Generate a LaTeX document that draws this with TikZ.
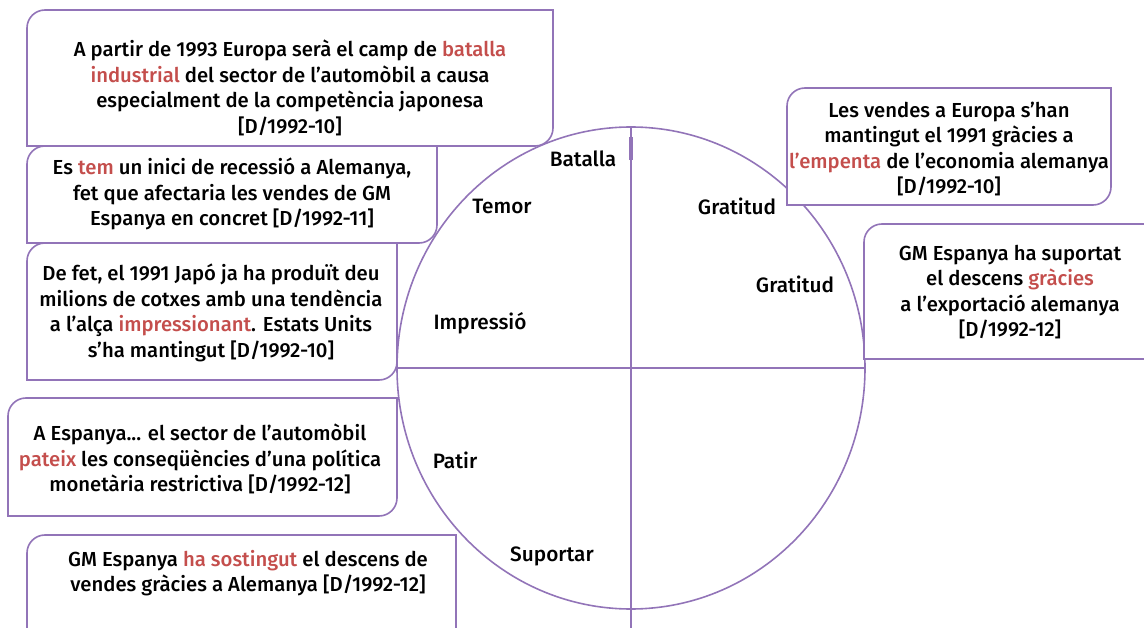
\documentclass[tikz,border=0pt]{standalone}
\usepackage{fontspec}
\setmainfont{Fira Sans}[UprightFont=* Medium]
\usetikzlibrary{positioning}
\definecolor{lila}{RGB}{146,116,184}
\definecolor{roig}{RGB}{196,78,76}

% box with two rounded corners (top left, bottom right)
\newcommand\notebox[4]{%
  \draw[noteline] (#1,{(#2+#4)/2}) [rounded corners=18pt] -- (#1,#2) -- ({(#1+#3)/2},#2)
    [sharp corners] -- (#3,#2) -- (#3,{(#2+#4)/2})
    [rounded corners=18pt] -- (#3,#4) -- ({(#1+#3)/2},#4)
    [sharp corners] -- (#1,#4) -- cycle;}

\begin{document}
\begin{tikzpicture}[x=1pt, y=-1pt,
		noteline/.style = {draw=lila, line width=1.6pt, fill=white},
		note/.style     = {align=center, font=\fontsize{20.3}{25.6}\selectfont, inner sep=0pt},
		word/.style     = {font=\fontsize{20.8}{22}\selectfont, inner sep=0pt},
		axis/.style     = {lila, line width=1.6pt}]
	
	\useasboundingbox (0,0) rectangle (1144,628);
	\clip (0,0) rectangle (1144,628);
	
	% circle and axes
	\draw[axis] (631,368) ellipse [x radius=234, y radius=241];
	\draw[axis] (631,127) -- (631,640);
	\draw[axis] (397,368) -- (865,368);
	\draw[lila, line width=4pt] (631,137) -- (631,160);
	
	% words inside the circle
	\node[word] (w1) at (583,159) {Batalla};
	\node[word] (w2) at (502,206) {Temor};
	\node[word] (w3) at (737,206) {Gratitud};
	\node[word] (w4) at (795,284) {Gratitud};
	\node[word] (w5) at (480,323) {Impressió};
	\node[word] (w6) at (455,460) {Patir};
	\node[word] (w7) at (552,556) {Suportar};
	
	% boxes
	\notebox{27}{10}{553}{146}
	\notebox{27}{146}{437}{243}
	\notebox{27}{243}{397}{380}
	\notebox{8}{398}{397}{516}
	\notebox{27}{535}{456}{660}
	\notebox{787}{88}{1111}{205}
	\notebox{864}{224}{1170}{359}
	
	% texts of the boxes
	\node[note] (t1) at (290,88) {A partir de 1993 Europa serà el camp de \textcolor{roig}{batalla}\\
		\textcolor{roig}{industrial} del sector de l’automòbil a causa\\
		especialment de la competència japonesa\\ {[D/1992-10]}};
	\node[note] (t2) at (232,194) {Es \textcolor{roig}{tem} un inici de recessió a Alemanya,\\
		fet que afectaria les vendes de GM\\ Espanya en concret [D/1992-11]};
	\node[note] (t3) at (211,313) {De fet, el 1991 Japó ja ha produït deu\\
		milions de cotxes amb una tendència\\
		a l’alça \textcolor{roig}{impressionant}. Estats Units\\ s’ha mantingut [D/1992-10]};
	\node[note] (t4) at (200,459) {A Espanya... el sector de l’automòbil\\
		\textcolor{roig}{pateix} les conseqüències d’una política\\
		monetària restrictiva [D/1992-12]};
	\node[note] (t5) at (248,573) {GM Espanya \textcolor{roig}{ha sostingut} el descens de\\
		vendes gràcies a Alemanya [D/1992-12]};
	\node[note] (t6) at (949,149) {Les vendes a Europa s’han\\
		mantingut el 1991 gràcies a\\
		\textcolor{roig}{l’empenta} de l’economia alemanya\\ {[D/1992-10]}};
	\node[note] (t7) at (1010,292) {GM Espanya ha suportat\\
		el descens \textcolor{roig}{gràcies}\\
		a l’exportació alemanya\\ {[D/1992-12]}};
	
\end{tikzpicture}
\end{document}
